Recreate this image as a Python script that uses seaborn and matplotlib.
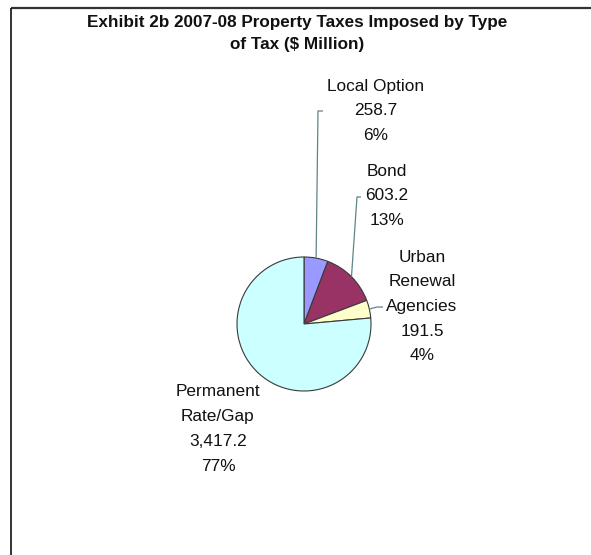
import numpy as np
import matplotlib
matplotlib.use("Agg")
import matplotlib.pyplot as plt
import seaborn as sns

# ---- data ----
categories = ["Local Option", "Bond", "Urban Renewal Agencies", "Permanent Rate/Gap"]
label_lines = [["Local Option"], ["Bond"], ["Urban", "Renewal", "Agencies"], ["Permanent", "Rate/Gap"]]
values = [258.7, 603.2, 191.5, 3417.2]
percents = [6, 13, 4, 77]
colors = ["#9999FF", "#993366", "#FFFFCC", "#CCFFFF"]
title_lines = ["Exhibit 2b 2007-08 Property Taxes Imposed by Type", "of Tax ($ Million)"]

sns.set_theme(style="white")
plt.rcParams["font.family"] = ["Liberation Sans", "DejaVu Sans"]

W, H = 591, 555
fig = plt.figure(figsize=(W / 100, H / 100), dpi=100)
ax = fig.add_axes([0, 0, 1, 1])

def Y(py):
    return H - py

cx, cy, r = 304, Y(324), 67
wedges, _ = ax.pie(values, colors=colors, startangle=90, counterclock=False,
                   center=(cx, cy), radius=r,
                   wedgeprops=dict(edgecolor="#3a3a3a", linewidth=0.8))
ax.set_xlim(0, W)
ax.set_ylim(0, H)
ax.set_aspect("equal")
ax.axis("off")

def anchor(w):
    th = np.deg2rad((w.theta1 + w.theta2) / 2)
    return cx + r * np.cos(th), cy + r * np.sin(th)

# label layout (pixel positions of first line centre, line step)
layouts = [
    dict(x=376, y=86, leader=[(318, 111), (323, 111)]),
    dict(x=387, y=171, leader=[(357, 197), (361, 197)]),
    dict(x=422, y=257, leader=[(377, 307), (383, 307)]),
    dict(x=218, y=392, leader=None),
]
step = 24.7
fs = 12.4
lead_col = "#5f8587"
for w, lines, v, p, lay in zip(wedges, label_lines, values, percents, layouts):
    all_lines = lines + [f"{v:,.1f}", f"{p}%"]
    for i, t in enumerate(all_lines):
        ax.text(lay["x"], Y(lay["y"] + i * step), t, ha="center", va="center",
                fontsize=fs, color="#111111")
    if lay["leader"] is not None:
        ax0, ay0 = anchor(w)
        xs = [ax0] + [q[0] for q in lay["leader"]]
        ys = [ay0] + [Y(q[1]) for q in lay["leader"]]
        ax.plot(xs, ys, color=lead_col, linewidth=0.9, solid_capstyle="butt")

for i, t in enumerate(title_lines):
    ax.text(297, Y(22 + i * 23), t, ha="center", va="center",
            fontsize=12.3, fontweight="bold", color="#111111")

# chart frame (partially visible)
ax.plot([11, W], [Y(8), Y(8)], color="#333333", linewidth=1.6, solid_capstyle="butt")
ax.plot([11, 11], [Y(8), 0], color="#111111", linewidth=1.2, solid_capstyle="butt")

fig.savefig("out.png", dpi=100, facecolor="white")
